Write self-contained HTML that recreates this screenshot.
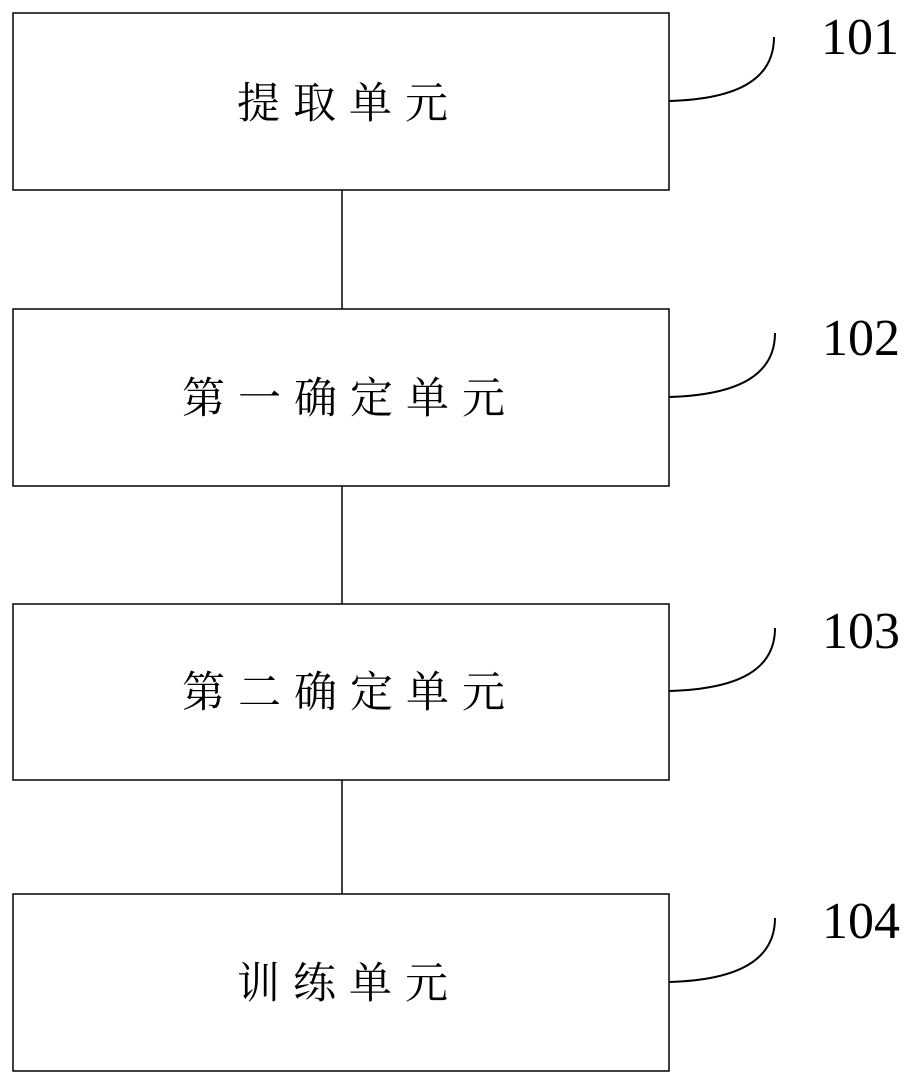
<!DOCTYPE html>
<html><head><meta charset="utf-8"><style>
html,body{margin:0;padding:0;background:#fff;}
body{width:917px;height:1085px;overflow:hidden;}
</style></head><body>
<svg width="917" height="1085" xmlns="http://www.w3.org/2000/svg">
<g fill="none" stroke="#000" stroke-width="1.5">
<rect x="13" y="13" width="656" height="177"/>
<rect x="13" y="309" width="656" height="177"/>
<rect x="13" y="604" width="656" height="176"/>
<rect x="13" y="894" width="656" height="177"/>
<line x1="342" y1="190" x2="342" y2="309"/>
<line x1="342" y1="486" x2="342" y2="604"/>
<line x1="342" y1="780" x2="342" y2="894"/>
</g>
<g fill="none" stroke="#000" stroke-width="2">
<path d="M669,101 C740,99 774,78 774,37"/>
<path d="M669,397 C740,395 775,374 775,333"/>
<path d="M669,691 C740,689 775,669 775,628"/>
<path d="M669,982 C740,980 775,959 775,918"/>
</g>
<g font-family="Liberation Serif, serif" font-size="52" fill="#000">
<text x="821" y="54">101</text>
<text x="822" y="355">102</text>
<text x="822" y="648">103</text>
<text x="822" y="938">104</text>
</g>
<g font-family="Liberation Serif, 'Noto Serif CJK SC', serif" font-size="43" fill="#000" text-anchor="middle" letter-spacing="13">
<text x="349" y="118">提取单元</text>
<text x="350" y="413">第一确定单元</text>
<text x="350" y="707">第二确定单元</text>
<text x="349" y="998">训练单元</text>
</g>
</svg>
</body></html>
